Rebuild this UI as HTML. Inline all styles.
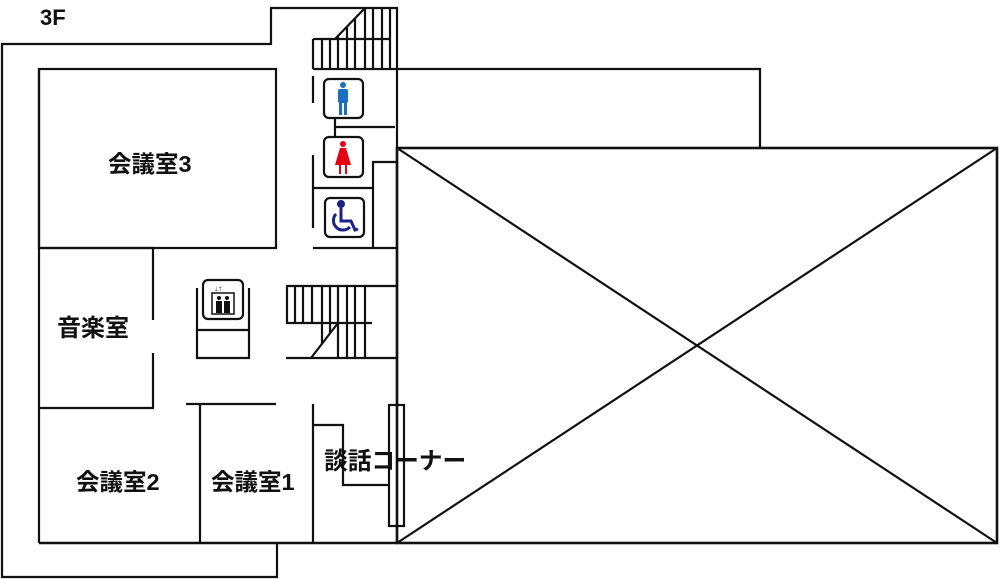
<!DOCTYPE html>
<html><head><meta charset="utf-8"><style>
body{margin:0;background:#fff}
svg{display:block}
text{font-family:"Liberation Sans","Noto Sans CJK JP",sans-serif;font-weight:bold;fill:#111}
</style></head><body>
<svg width="1000" height="579" viewBox="0 0 1000 579" xmlns="http://www.w3.org/2000/svg">
<g stroke="#111" stroke-width="2.2" fill="none">
<polyline points="277,543 277,577 2,577 2,44 271,44 271,8 397,8 397,405"/>
<line x1="397" y1="526" x2="397" y2="543"/>
<rect x="397" y="148" width="600" height="395" stroke-width="2.6"/>
<line x1="397" y1="148" x2="997" y2="543"/>
<line x1="997" y1="148" x2="397" y2="543"/>
<polyline points="313,69 760,69 760,148"/>
<rect x="39" y="69" width="237" height="179"/>
<line x1="39" y1="69" x2="39" y2="543"/>
<line x1="39" y1="543" x2="397" y2="543" stroke-width="2.6"/>
<polyline points="39,248 153,248 153,320"/>
<polyline points="153,353 153,408 39,408"/>
<line x1="186" y1="404" x2="276" y2="404"/>
<line x1="200" y1="404" x2="200" y2="543"/>
<line x1="313" y1="404" x2="313" y2="543"/>
<polyline points="313,425 343,425 343,485 389,485"/>
<rect x="389" y="405" width="15" height="121"/>
<line x1="313" y1="39" x2="390" y2="39"/>
<line x1="335" y1="39" x2="365" y2="8"/>
<g>
<line x1="313" y1="39" x2="313" y2="69"/><line x1="322" y1="39" x2="322" y2="69"/>
<line x1="330" y1="39" x2="330" y2="69"/><line x1="338" y1="36" x2="338" y2="69"/>
<line x1="347" y1="27" x2="347" y2="69"/><line x1="355" y1="18" x2="355" y2="69"/>
<line x1="365" y1="8" x2="365" y2="69"/><line x1="373" y1="8" x2="373" y2="69"/>
<line x1="382" y1="8" x2="382" y2="69"/><line x1="390" y1="8" x2="390" y2="69"/>
</g>
<line x1="313" y1="76" x2="313" y2="103"/>
<line x1="313" y1="155" x2="313" y2="228"/>
<line x1="335" y1="118" x2="335" y2="137"/>
<line x1="335" y1="127" x2="395" y2="127"/>
<line x1="313" y1="188" x2="373" y2="188"/>
<polyline points="397,162 373,162 373,248"/>
<line x1="313" y1="248" x2="397" y2="248"/>
<rect x="324" y="79" width="39" height="39" rx="5"/>
<rect x="324" y="137" width="39" height="40" rx="5"/>
<rect x="325" y="198" width="39" height="39" rx="5"/>
<polyline points="197,288 197,358 249,358 249,288"/>
<line x1="197" y1="330" x2="249" y2="330"/>
<rect x="203" y="280" width="40" height="39" rx="5" fill="#fff"/>
<rect x="212" y="293" width="22" height="21" stroke-width="1.5"/>
<line x1="286" y1="286" x2="397" y2="286"/>
<line x1="286" y1="323" x2="372" y2="323"/>
<line x1="286" y1="358" x2="397" y2="358"/>
<line x1="311" y1="358" x2="338" y2="323"/>
<g>
<line x1="287" y1="286" x2="287" y2="323"/><line x1="295" y1="286" x2="295" y2="323"/>
<line x1="303" y1="286" x2="303" y2="323"/><line x1="312" y1="286" x2="312" y2="323"/>
<line x1="322" y1="286" x2="322" y2="344"/><line x1="330" y1="286" x2="330" y2="333"/>
<line x1="338" y1="286" x2="338" y2="358"/><line x1="347" y1="286" x2="347" y2="358"/>
<line x1="355" y1="286" x2="355" y2="358"/><line x1="365" y1="286" x2="365" y2="358"/>
</g>
</g>
<g fill="#1a6fbf"><circle cx="343" cy="85" r="3"/><rect x="338" y="89" width="10" height="14" rx="2"/><rect x="339" y="100" width="3" height="15"/><rect x="344" y="100" width="3" height="15"/></g>
<g fill="#e60012"><circle cx="343" cy="144" r="3"/><polygon points="340,148 346,148 351,165 335,165"/><rect x="339" y="163" width="2" height="11"/><rect x="345" y="163" width="2" height="11"/></g>
<g fill="none" stroke="#1d2087" stroke-width="3"><circle cx="341" cy="204" r="2.5" fill="#1d2087"/><polyline points="341,208 341,221 351,221 355,230 358,229"/><path d="M336,214 a9,9 0 1 0 14,13"/></g>
<g fill="#111"><circle cx="219" cy="298" r="2"/><rect x="216" y="301" width="6" height="12"/><circle cx="227" cy="298" r="2"/><rect x="224" y="301" width="6" height="12"/>
<text x="214" y="291" style="font-size:8px">↓↑</text></g>
<text x="40" y="25" style="font-size:22px">3F</text>
<text x="108" y="172" style="font-size:23.5px">会議室3</text>
<text x="57" y="336" style="font-size:24px">音楽室</text>
<text x="76" y="490" style="font-size:23.5px">会議室2</text>
<text x="211" y="490" style="font-size:23.5px">会議室1</text>
<text x="324" y="469" style="font-size:23.7px">談話コーナー</text>
</svg>
</body></html>
